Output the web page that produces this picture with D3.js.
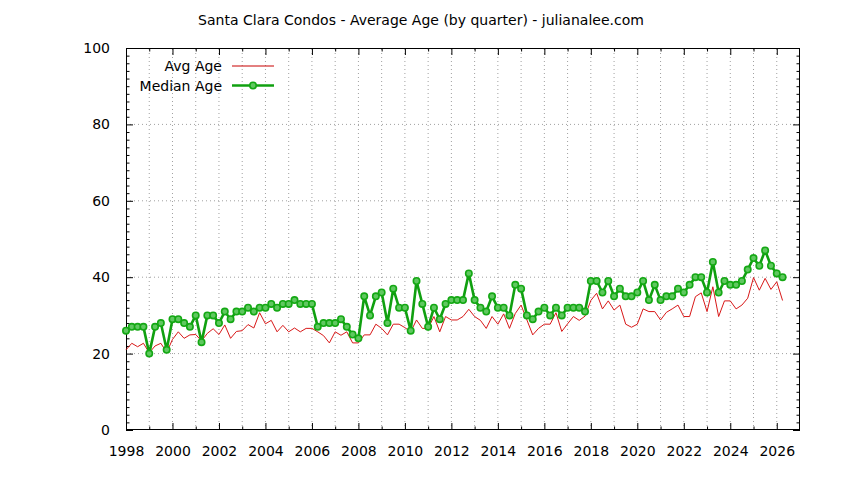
<!DOCTYPE html>
<html>
<head>
<meta charset="utf-8">
<script src="https://cdn.jsdelivr.net/npm/d3@7"></script>
<style>
  body { margin: 0; background: #fff; }
  text { font-family: "DejaVu Sans", sans-serif; font-size: 14px; fill: #000; }
</style>
</head>
<body>
<div id="chart"></div>
<script>

// Chart data, one value per quarter starting 1998 Q1
const firstYear = 1998;
const yearTicks = [1998, 2000, 2002, 2004, 2006, 2008, 2010, 2012, 2014, 2016, 2018, 2020, 2022, 2024, 2026];
const ageTicks = [0, 20, 40, 60, 80, 100];

const avgAge = [
  21, 22.7, 21.8, 22.7, 20.2, 22, 22.7, 20.3, 23.7, 25.7,
  24, 24.9, 25, 23.3, 25.3, 26.5, 25, 27.5, 24, 25.8,
  26, 27.6, 26.7, 30.7, 27.8, 28.7, 25.7, 27.4, 25.7, 26.7,
  25.7, 26.6, 26.6, 25.7, 24.7, 22.8, 25.7, 24.8, 25.7, 22.8,
  22.8, 24.9, 24.9, 27.7, 26.6, 24.9, 27.7, 27.7, 26.8, 25.7,
  28.8, 26.6, 26.6, 29.7, 25.7, 29.7, 28.8, 28.8, 29.7, 31.6,
  29.7, 28.7, 26.6, 29.7, 27.7, 30.4, 26.6, 30.5, 32.7, 28.8,
  24.9, 26.6, 27.7, 27.7, 30.7, 25.8, 27.8, 29.7, 28.7, 29.8,
  33.9, 35.8, 31.7, 33.8, 31.4, 32.7, 27.7, 26.9, 27.7, 31.7,
  31.0, 31.0, 28.8, 30.8, 31.7, 32.7, 29.7, 29.7, 34.9, 35.9,
  31.0, 37.5, 29.7, 33.8, 33.8, 31.7, 32.7, 34.5, 39.9, 36.6,
  39.7, 36.8, 38.8, 33.9
];

const medianAge = [
  26, 27, 27, 27, 20, 27, 28, 21, 29, 29,
  28, 27, 30, 23, 30, 30, 28, 31, 29, 31,
  31, 32, 31, 32, 32, 33, 32, 33, 33, 34,
  33, 33, 33, 27, 28, 28, 28, 29, 27, 25,
  24, 35, 30, 35, 36, 28, 37, 32, 32, 26,
  39, 33, 27, 32, 29, 33, 34, 34, 34, 41,
  34, 32, 31, 35, 32, 32, 30, 38, 37, 30,
  29, 31, 32, 30, 32, 30, 32, 32, 32, 31,
  39, 39, 36, 39, 35, 37, 35, 35, 36, 39,
  34, 38, 34, 35, 35, 37, 36, 38, 40, 40,
  36, 44, 36, 39, 38, 38, 39, 42, 45, 43,
  47, 43, 41, 40
];

// Dimensions of the page and plot box
const width = 844;
const height = 480;
const margin = {left: 126, right: 44, top: 48, bottom: 50};
const majorTick = 7;
const minorTick = 3.5;

const svg = d3.select("#chart")
  .append("svg")
  .attr("width", width)
  .attr("height", height);

// Scales
const xScale = d3.scaleLinear()
  .domain([1998, 2027])
  .range([margin.left, width - margin.right]);

const yScale = d3.scaleLinear()
  .domain([0, 100])
  .range([height - margin.bottom, margin.top]);

const quarterX = (d, i) => xScale(firstYear + i / 4);

/*

  Grid

*/

// vertical dotted lines at every year
const allYears = d3.range(1999, 2027);
svg.append("g")
  .selectAll("line")
  .data(allYears)
  .enter()
  .append("line")
    .attr("x1", d => xScale(d))
    .attr("x2", d => xScale(d))
    .attr("y1", yScale(0))
    .attr("y2", yScale(100))
    .attr("stroke", "#a0a0a0")
    .attr("stroke-dasharray", "1,3");

// horizontal dotted lines at the labelled ticks
svg.append("g")
  .selectAll("line")
  .data(ageTicks.slice(1, -1))
  .enter()
  .append("line")
    .attr("x1", xScale(1998))
    .attr("x2", xScale(2027))
    .attr("y1", d => yScale(d))
    .attr("y2", d => yScale(d))
    .attr("stroke", "#a0a0a0")
    .attr("stroke-dasharray", "1,3");

/*

  Axes (gnuplot style, ticks pointing inwards, mirrored)

*/

const plotW = width - margin.left - margin.right;
const plotH = height - margin.top - margin.bottom;
const minorAges = d3.range(0, 101, 2).filter(d => d % 20 !== 0);
const minorYears = allYears.filter(d => d % 2 !== 0);

function styleAxis(g) {
  g.select(".domain").remove();
  g.selectAll(".tick line").attr("stroke", "#000");
}

// bottom labels + major ticks
svg.append("g")
  .attr("transform", `translate(0,${yScale(0)})`)
  .call(d3.axisBottom(xScale).tickValues(yearTicks).tickFormat(d3.format("d"))
    .tickSizeInner(-majorTick).tickSizeOuter(0).tickPadding(16))
  .call(styleAxis)
  .selectAll("text").style("font-size", "14px");

svg.append("g")
  .attr("transform", `translate(0,${yScale(0)})`)
  .call(d3.axisBottom(xScale).tickValues(minorYears).tickFormat("")
    .tickSizeInner(-minorTick).tickSizeOuter(0))
  .call(styleAxis);

// top mirror
svg.append("g")
  .attr("transform", `translate(0,${yScale(100)})`)
  .call(d3.axisTop(xScale).tickValues(yearTicks).tickFormat("")
    .tickSizeInner(-majorTick).tickSizeOuter(0))
  .call(styleAxis);

svg.append("g")
  .attr("transform", `translate(0,${yScale(100)})`)
  .call(d3.axisTop(xScale).tickValues(minorYears).tickFormat("")
    .tickSizeInner(-minorTick).tickSizeOuter(0))
  .call(styleAxis);

// left labels + ticks
svg.append("g")
  .attr("transform", `translate(${xScale(1998)},0)`)
  .call(d3.axisLeft(yScale).tickValues(ageTicks)
    .tickSizeInner(-majorTick).tickSizeOuter(0).tickPadding(16))
  .call(styleAxis)
  .selectAll("text").style("font-size", "14px");

svg.append("g")
  .attr("transform", `translate(${xScale(1998)},0)`)
  .call(d3.axisLeft(yScale).tickValues(minorAges).tickFormat("")
    .tickSizeInner(-minorTick).tickSizeOuter(0))
  .call(styleAxis);

// right mirror
svg.append("g")
  .attr("transform", `translate(${xScale(2027)},0)`)
  .call(d3.axisRight(yScale).tickValues(ageTicks).tickFormat("")
    .tickSizeInner(-majorTick).tickSizeOuter(0))
  .call(styleAxis);

svg.append("g")
  .attr("transform", `translate(${xScale(2027)},0)`)
  .call(d3.axisRight(yScale).tickValues(minorAges).tickFormat("")
    .tickSizeInner(-minorTick).tickSizeOuter(0))
  .call(styleAxis);

// border box
svg.append("rect")
  .attr("x", xScale(1998) + 0.5)
  .attr("y", yScale(100) + 0.5)
  .attr("width", plotW - 1)
  .attr("height", plotH - 1)
  .attr("fill", "none")
  .attr("stroke", "#000");

/*

  Lines

*/

const line = d3.line()
  .x(quarterX)
  .y(d => yScale(d));

svg.append("path")
  .datum(avgAge)
  .attr("d", line)
  .attr("fill", "none")
  .attr("stroke", "#d81818")
  .attr("stroke-width", 1);

svg.append("path")
  .datum(medianAge)
  .attr("d", line)
  .attr("fill", "none")
  .attr("stroke", "#10a010")
  .attr("stroke-width", 2.6);

svg.append("g")
  .selectAll("circle")
  .data(medianAge)
  .enter()
  .append("circle")
    .attr("cx", quarterX)
    .attr("cy", d => yScale(d))
    .attr("r", 3.2)
    .attr("fill", "#60c860")
    .attr("stroke", "#14a814")
    .attr("stroke-width", 1.6);

/*

  Title and key

*/

svg.append("text")
  .attr("x", 421)
  .attr("y", 25)
  .attr("text-anchor", "middle")
  .text("Santa Clara Condos - Average Age (by quarter) - julianalee.com");

const legend = [
  {label: "Avg Age", color: "#c80000", width: 1, y: 66, dot: false},
  {label: "Median Age", color: "#10a010", width: 2.6, y: 85.5, dot: true}
];

const key = svg.append("g");

key.selectAll("text")
  .data(legend)
  .enter()
  .append("text")
    .attr("x", 222)
    .attr("y", d => d.y + 5)
    .attr("text-anchor", "end")
    .text(d => d.label);

key.selectAll("line")
  .data(legend)
  .enter()
  .append("line")
    .attr("x1", 232)
    .attr("x2", 274)
    .attr("y1", d => d.y)
    .attr("y2", d => d.y)
    .attr("stroke", d => d.color)
    .attr("stroke-width", d => d.width);

key.selectAll("circle")
  .data(legend.filter(d => d.dot))
  .enter()
  .append("circle")
    .attr("cx", 253)
    .attr("cy", d => d.y)
    .attr("r", 3.2)
    .attr("fill", "#60c860")
    .attr("stroke", "#14a814")
    .attr("stroke-width", 1.6);

</script>
</body>
</html>
